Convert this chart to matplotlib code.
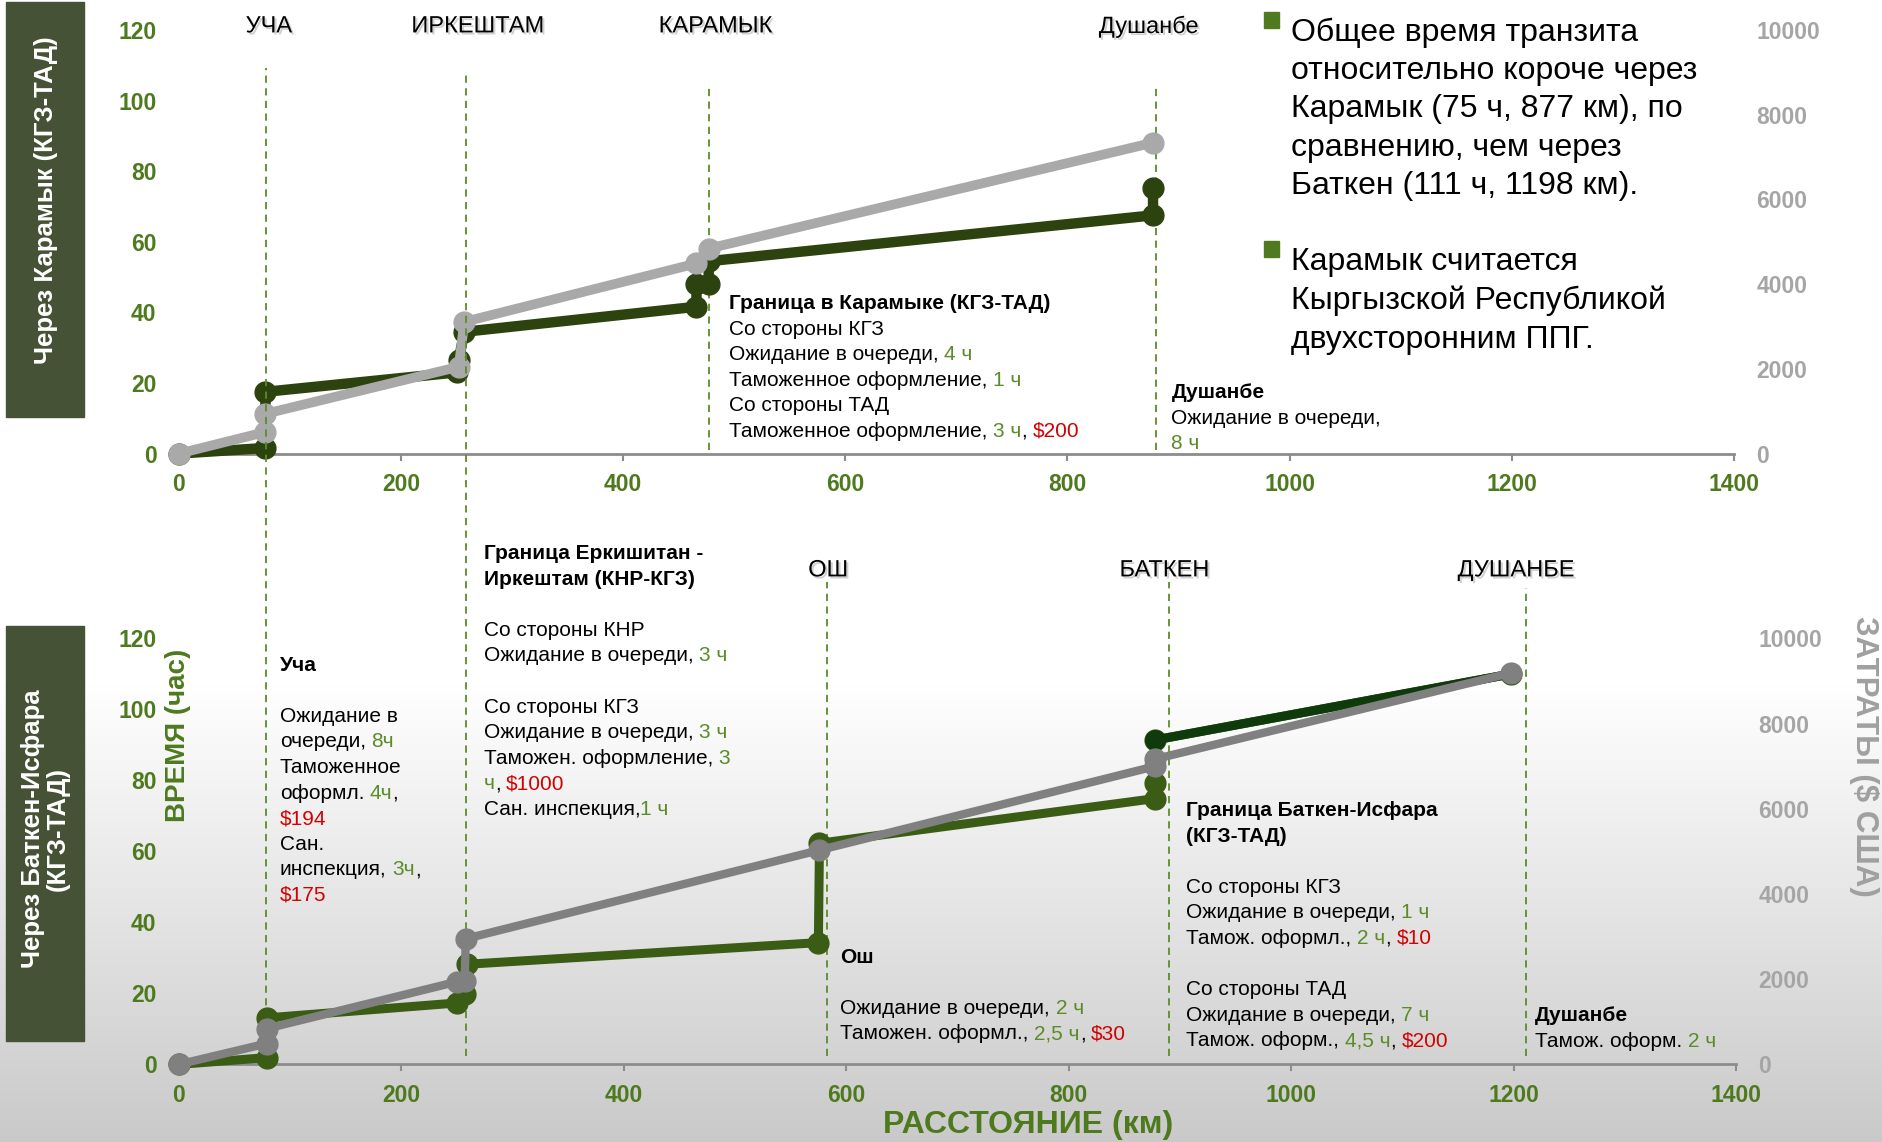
import matplotlib
matplotlib.use("Agg")
import matplotlib.pyplot as plt
import matplotlib.patheffects as pe
import numpy as np
from matplotlib.patches import Rectangle
from matplotlib.transforms import blended_transform_factory

# ---- data (км, часы, $) ----
top_km_time = [0, 78, 78, 250, 252, 257, 466, 466, 477, 477, 877, 877]
top_hours = [0, 1.6, 17.5, 23, 26.5, 34.5, 41.6, 48, 48, 54.5, 67.5, 75.3]
top_km_cost = [0, 78, 78, 252, 257, 466, 477, 877]
top_cost = [0, 510, 940, 2050, 3110, 4490, 4840, 7340]

bot_km_time = [0, 79, 79, 250, 257, 259, 575, 576, 878, 878, 878, 1198]
bot_hours = [0, 1.9, 13.1, 17.3, 19.7, 28.2, 34.3, 62.3, 74.9, 79.3, 91.4, 110]
bot_km_cost = [0, 79, 79, 250, 257, 258, 576, 878, 878, 1198]
bot_cost = [0, 490, 840, 1940, 1960, 2950, 5030, 7000, 7170, 9190]

top_sites = ["УЧА", "ИРКЕШТАМ", "КАРАМЫК", "Душанбе"]
top_sites_km = [78, 258, 477, 880]
bot_sites = ["ОШ", "БАТКЕН", "ДУШАНБЕ"]
bot_sites_km = [583, 890, 1211]

x_ticks = list(range(0, 1401, 200))
hour_ticks = list(range(0, 121, 20))
cost_ticks = list(range(0, 10001, 2000))

GREEN_TICK = "#4e7a1e"
GRAY_TICK = "#a5a5a5"
K, G, R = "black", "#5a8c28", "#d40000"

plt.rcParams["font.family"] = ["Liberation Sans", "DejaVu Sans"]

W, H = 1882, 1142
fig = plt.figure(figsize=(W / 100, H / 100), dpi=100)

# фон с градиентом снизу
bg = fig.add_axes([0, 0, 1, 1], zorder=-5)
yy = np.linspace(0, 1, 500)
g = np.where(yy < 0.6, 1.0, 1.0 - (yy - 0.6) / 0.4 * 0.21)
img = np.dstack([g, g, g]).reshape(500, 1, 3)
bg.imshow(img, aspect="auto", extent=[0, 1, 0, 1], origin="upper")
bg.axis("off")


def make_axes(rect, hours_x, hours, cost_x, cost, dark, gray, lw):
    ax = fig.add_axes(rect)
    ax.patch.set_visible(False)
    ax.plot(hours_x, hours, color=dark, lw=lw, marker="o", ms=15,
            solid_capstyle="round", clip_on=False, zorder=3)
    ax.set_xlim(0, 1400)
    ax.set_ylim(0, 120)
    ax.set_xticks(x_ticks)
    ax.set_yticks(hour_ticks)
    for s in ["top", "left", "right"]:
        ax.spines[s].set_visible(False)
    ax.spines["bottom"].set_color("#8c8c8c")
    ax.spines["bottom"].set_linewidth(2)
    ax.tick_params(axis="x", direction="out", length=5, width=1.5, color="#8c8c8c",
                   pad=9, labelsize=16.5, labelcolor=GREEN_TICK)
    ax.tick_params(axis="y", length=0, pad=16, labelsize=16.5, labelcolor=GREEN_TICK)
    for lab in ax.get_xticklabels() + ax.get_yticklabels():
        lab.set_fontweight("bold")

    ax2 = ax.twinx()
    ax2.plot(cost_x, cost, color=gray, lw=lw - 0.5, marker="o", ms=15,
             solid_capstyle="round", clip_on=False, zorder=4)
    ax2.set_ylim(0, 10000)
    ax2.set_yticks(cost_ticks)
    for s in ax2.spines.values():
        s.set_visible(False)
    ax2.tick_params(axis="y", length=0, pad=16, labelsize=16.5, labelcolor=GRAY_TICK)
    for lab in ax2.get_yticklabels():
        lab.set_fontweight("bold")
    return ax, ax2


ax_top, ax_top2 = make_axes([178.8 / W, 1 - 453.6 / H, (1734 - 178.8) / W, (453.6 - 30) / H],
                            top_km_time, top_hours, top_km_cost, top_cost,
                            "#2c4310", "#a9a9a9", 7.5)
ax_bot, ax_bot2 = make_axes([178.8 / W, 1 - 1064.4 / H, (1736 - 178.8) / W, (1064.4 - 638.4) / H],
                            bot_km_time, bot_hours, bot_km_cost, bot_cost,
                            "#3a5c14", "#808080", 6.5)
# последний отрезок Баткен - Душанбе темнее
ax_bot.plot(bot_km_time[-2:], bot_hours[-2:], color="#0f3a0c", lw=6.5, marker="o", ms=14,
            clip_on=False, zorder=3)

# пунктирные вертикали
dash = dict(color="#5b8c2a", lw=1.3, ls=(0, (4, 3)), clip_on=False, zorder=1)
tr_top = blended_transform_factory(ax_top.transData, ax_top.transAxes)
tr_bot = blended_transform_factory(ax_bot.transData, ax_bot.transAxes)
# УЧА и ИРКЕШТАМ проходят через обе панели
ax_bot.plot([top_sites_km[0]] * 2, [0.02, 2.338], transform=tr_bot, **dash)
ax_bot.plot([top_sites_km[1]] * 2, [0.02, 2.324], transform=tr_bot, **dash)
for km in top_sites_km[2:]:
    ax_top.plot([km, km], [0.0085, 0.873], transform=tr_top, **dash)
for km, top in zip(bot_sites_km, [1.132, 1.132, 1.118]):
    ax_bot.plot([km, km], [0.02, top], transform=tr_bot, **dash)

# ---- слой с подписями в координатах референса ----
ov = fig.add_axes([0, 0, 1, 1], zorder=10)
ov.set_xlim(0, 1568)
ov.set_ylim(951, 0)
ov.axis("off")
ov.patch.set_alpha(0)

shadow = [pe.SimplePatchShadow(offset=(1.5, -1.5), shadow_rgbFace="#999999", alpha=0.45), pe.Normal()]
name_pos = [(224, 22), (398, 22), (596, 22), (957, 22), (690, 475), (970, 475), (1263, 475)]
for name, (x, y) in zip(top_sites + bot_sites, name_pos):
    ov.text(x, y, name, ha="center", va="center", fontsize=17, path_effects=shadow)


def b(s):
    return (s, K, "bold")


def n(s):
    return (s, K, "normal")


def gr(s):
    return (s, G, "normal")


def rd(s):
    return (s, R, "normal")


def rich(x, y, parts, size=15):
    prev = None
    gap = 0
    for s, c, w in parts:
        body = s.rstrip(" ")
        if prev is None:
            prev = ov.text(x, y, body, color=c, fontsize=size, fontweight=w, ha="left", va="center")
        else:
            prev = ov.annotate(body, xy=(1, 0), xycoords=prev, xytext=(gap, 0),
                               textcoords="offset points", color=c, fontsize=size,
                               fontweight=w, ha="left", va="bottom")
        gap = (len(s) - len(body)) * 0.278 * size


def block(x, y0, lines, dy=21.3, size=15):
    for i, parts in enumerate(lines):
        if parts:
            rich(x, y0 + i * dy, parts, size)


block(607, 253, [
    [b("Граница в Карамыке (КГЗ-ТАД)")],
    [n("Со стороны КГЗ")],
    [n("Ожидание в очереди, "), gr("4 ч")],
    [n("Таможенное оформление, "), gr("1 ч")],
    [n("Со стороны ТАД")],
    [n("Таможенное оформление, "), gr("3 ч"), n(", "), rd("$200")],
], dy=21.2)

block(976, 327, [
    [b("Душанбе")],
    [n("Ожидание в очереди,")],
    [gr("8 ч")],
])

block(233, 554, [
    [b("Уча")],
    [],
    [n("Ожидание в")],
    [n("очереди, "), gr("8ч")],
    [n("Таможенное")],
    [n("оформл. "), gr("4ч"), n(",")],
    [rd("$194")],
    [n("Сан.")],
    [n("инспекция, "), gr("3ч"), n(",")],
    [rd("$175")],
])

block(403, 461, [
    [b("Граница Еркишитан -")],
    [b("Иркештам (КНР-КГЗ)")],
    [],
    [n("Со стороны КНР")],
    [n("Ожидание в очереди, "), gr("3 ч")],
    [],
    [n("Со стороны КГЗ")],
    [n("Ожидание в очереди, "), gr("3 ч")],
    [n("Таможен. оформление, "), gr("3")],
    [gr("ч"), n(", "), rd("$1000")],
    [n("Сан. инспекция,"), gr("1 ч")],
])

block(700, 797, [
    [b("Ош")],
    [],
    [n("Ожидание в очереди, "), gr("2 ч")],
    [n("Таможен. оформл., "), gr("2,5 ч"), n(", "), rd("$30")],
])

block(988, 675, [
    [b("Граница Баткен-Исфара")],
    [b("(КГЗ-ТАД)")],
    [],
    [n("Со стороны КГЗ")],
    [n("Ожидание в очереди, "), gr("1 ч")],
    [n("Тамож. оформл., "), gr("2 ч"), n(", "), rd("$10")],
    [],
    [n("Со стороны ТАД")],
    [n("Ожидание в очереди, "), gr("7 ч")],
    [n("Тамож. оформ., "), gr("4,5 ч"), n(", "), rd("$200")],
])

block(1279, 846, [
    [b("Душанбе")],
    [n("Тамож. оформ. "), gr("2 ч")],
])

# боковые плашки
box_col = "#465236"
ov.add_patch(Rectangle((5, 2), 65, 345, color=box_col))
ov.add_patch(Rectangle((5, 521), 65, 346, color=box_col))
ov.text(38, 167, "Через Карамык (КГЗ-ТАД)", rotation=90, color="white",
        fontsize=18.5, fontweight="bold", ha="center", va="center")
ov.text(37.5, 690, "Через Баткен-Исфара\n(КГЗ-ТАД)", rotation=90, color="white",
        fontsize=18.5, fontweight="bold", ha="center", va="center", multialignment="center",
        linespacing=1.05)

ov.text(148, 612, "ВРЕМЯ (час)", rotation=90, color=GREEN_TICK, fontsize=20,
        fontweight="bold", ha="center", va="center")
ov.text(1553, 630, "ЗАТРАТЫ ($ США)", rotation=-90, color="#a0a0a0", fontsize=22.5,
        fontweight="bold", ha="center", va="center")
ov.text(857, 937, "РАССТОЯНИЕ (км)", color=GREEN_TICK, fontsize=23,
        fontweight="bold", ha="center", va="center")

# пункты справа
ov.add_patch(Rectangle((1053, 10), 13, 13, color="#4f7a1f"))
ov.add_patch(Rectangle((1053, 201), 13, 13, color="#4f7a1f"))
bullet1 = ["Общее время транзита", "относительно короче через",
           "Карамык (75 ч, 877 км), по", "сравнению, чем через",
           "Баткен (111 ч, 1198 км)."]
bullet2 = ["Карамык считается", "Кыргызской Республикой", "двухсторонним ППГ."]
for i, s in enumerate(bullet1):
    ov.text(1076, 27 + i * 32, s, fontsize=23, ha="left", va="center")
for i, s in enumerate(bullet2):
    ov.text(1076, 218 + i * 32.5, s, fontsize=23, ha="left", va="center")

fig.savefig("out.png", dpi=100)
